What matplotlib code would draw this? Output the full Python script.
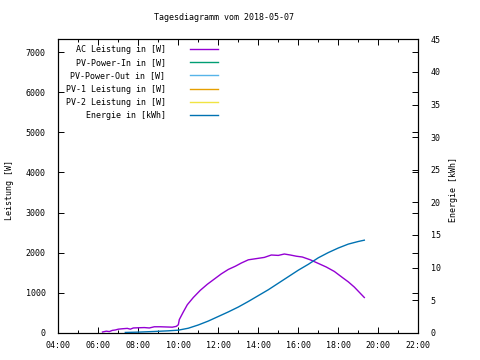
import matplotlib
matplotlib.use('Agg')
import matplotlib.pyplot as plt
from matplotlib.ticker import MultipleLocator, FuncFormatter

TITLE = 'Tagesdiagramm vom 2018-05-07'

# AC Leistung (W) over time of day (hours)
AC_HOURS = [6.21, 6.40, 6.55, 6.70, 6.85, 7.00, 7.20, 7.45, 7.60, 7.75, 8.00, 8.30,
            8.55, 8.80, 9.10, 9.40, 9.70, 9.90, 10.00, 10.05, 10.25, 10.45, 10.75,
            11.10, 11.45, 11.80, 12.15, 12.50, 12.85, 13.15, 13.50, 13.90, 14.30,
            14.65, 15.00, 15.30, 15.60, 15.90, 16.20, 16.60, 17.00, 17.40, 17.80,
            18.20, 18.50, 18.80, 19.05, 19.30]
AC_WATT = [20, 40, 30, 60, 70, 90, 100, 110, 90, 120, 125, 130,
           120, 150, 150, 145, 140, 160, 200, 330, 520, 700, 880,
           1060, 1210, 1340, 1470, 1580, 1660, 1740, 1820, 1850, 1880,
           1940, 1930, 1965, 1940, 1910, 1890, 1820, 1730, 1640, 1530,
           1380, 1270, 1140, 1010, 880]

# Energie (kWh)
EN_HOURS = [7.35, 8.0, 8.8, 9.5, 10.0, 10.5, 11.0, 11.5, 12.0, 12.5, 13.0, 13.5,
            14.0, 14.5, 15.0, 15.5, 16.0, 16.5, 17.0, 17.5, 18.0, 18.5, 19.0, 19.3]
EN_KWH = [0.05, 0.1, 0.2, 0.3, 0.4, 0.7, 1.2, 1.8, 2.5, 3.2, 3.95, 4.8,
          5.7, 6.6, 7.6, 8.6, 9.6, 10.5, 11.5, 12.3, 13.0, 13.6, 14.0, 14.2]

# series without data that day
EMPTY_SERIES = ['PV-Power-In in [W]', 'PV-Power-Out in [W]',
                'PV-1 Leistung in [W]', 'PV-2 Leistung in [W]']
EMPTY_COLORS = ['#009e73', '#56b4e9', '#e69f00', '#f0e442']

FONT = 'DejaVu Sans Mono'
FS = 6

plt.rcParams['font.family'] = FONT
plt.rcParams['font.size'] = FS

fig = plt.figure(figsize=(4.8, 3.6), dpi=100)
ax = fig.add_axes([0.1215, 0.0756, 0.75, 0.8152])
ax2 = ax.twinx()

h_ac, = ax.plot(AC_HOURS, AC_WATT, color='#9400d3', lw=1, label='AC Leistung in [W]')
handles = [h_ac]
for lab, col in zip(EMPTY_SERIES, EMPTY_COLORS):
    h, = ax.plot([], [], color=col, lw=1, label=lab)
    handles.append(h)
h_en, = ax2.plot(EN_HOURS, EN_KWH, color='#0072b2', lw=1, label='Energie in [kWh]')
handles.append(h_en)

ax.set_xlim(4, 22)
ax.set_ylim(0, 7320)
ax2.set_ylim(0, 45)

ax.xaxis.set_major_locator(MultipleLocator(2))
ax.xaxis.set_minor_locator(MultipleLocator(1))
ax.xaxis.set_major_formatter(FuncFormatter(lambda v, p: '%02d:00' % int(round(v))))
ax.yaxis.set_major_locator(MultipleLocator(1000))
ax2.yaxis.set_major_locator(MultipleLocator(5))

ax.tick_params(axis='x', which='major', direction='in', length=4, width=0.7,
               top=True, pad=6, labelsize=FS)
ax.tick_params(axis='x', which='minor', direction='in', length=2, width=0.7, top=True)
ax.tick_params(axis='y', direction='in', length=4, width=0.7, right=True,
               pad=9, labelsize=FS)
ax2.tick_params(axis='y', direction='in', length=4, width=0.7, pad=9, labelsize=FS)

for a in (ax, ax2):
    for s in a.spines.values():
        s.set_linewidth(0.8)
        s.set_color('black')

fig.text(10 / 480, 1 - 190 / 360, 'Leistung [W]', rotation=90,
         ha='center', va='center', fontsize=FS)
fig.text(453 / 480, 1 - 190 / 360, 'Energie [kWh]', rotation=90,
         ha='center', va='center', fontsize=FS)
fig.text(224 / 480, 1 - 18 / 360, TITLE, ha='center', va='center', fontsize=FS)

ax2.legend(handles=handles, loc='upper right', bbox_to_anchor=(218 / 480, 1 - 45 / 360),
           bbox_transform=fig.transFigure, frameon=False, markerfirst=False,
           borderpad=0, borderaxespad=0, handlelength=3.4, handletextpad=2.9,
           labelspacing=0.5, fontsize=FS)

fig.savefig('out.png', dpi=100)
